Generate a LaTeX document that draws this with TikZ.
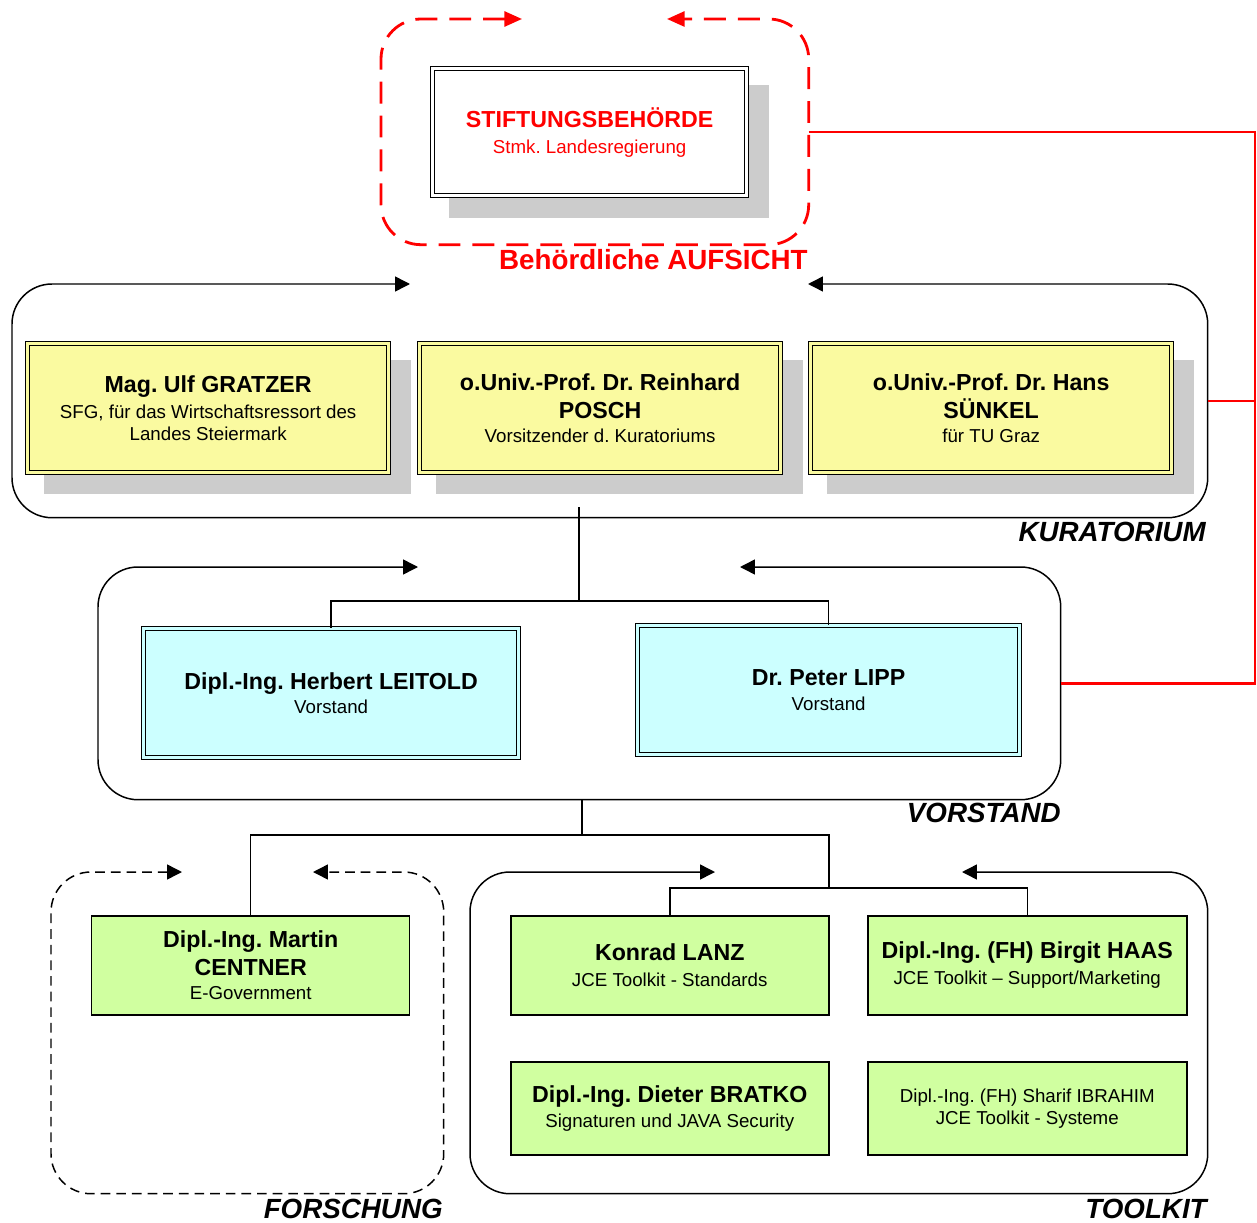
\documentclass[tikz,border=0pt]{standalone}
\usepackage{fontspec}
\setmainfont{Liberation Sans}
\usetikzlibrary{arrows.meta}
\frenchspacing
\definecolor{kyellow}{RGB}{250,250,160}
\definecolor{kcyan}{RGB}{204,255,255}
\definecolor{kgreen}{RGB}{208,255,160}
\definecolor{kshadow}{RGB}{204,204,204}
\definecolor{kred}{RGB}{255,0,0}
\newcommand\nmf{\fontsize{13.2pt}{12.5pt}\selectfont\bfseries}
\newcommand\sbf{\fontsize{10.65pt}{12.5pt}\selectfont\mdseries}
\newcommand\lbf{\fontsize{15.8pt}{18pt}\selectfont\bfseries}
\newcommand\bx[7]{\node[#6, anchor=north west, minimum width={(#4-#2)*0.02cm}, minimum height={(#5-#3)*0.02cm}] (#1) at (#2,#3) {#7};}
\begin{document}
\begin{tikzpicture}[x=0.02cm,y=-0.02cm,
  basebox/.style={inner sep=0pt, align=center, font=\sbf},
  dbox/.style={basebox, draw=black, line width=0.75pt, double distance=1.5pt},
  ybox/.style={dbox, fill=kyellow, double=kyellow},
  cbox/.style={dbox, fill=kcyan, double=kcyan},
  wbox/.style={dbox, fill=white, double=white, text=kred},
  gbox/.style={basebox, draw=black, line width=0.85pt, fill=kgreen},
  frame/.style={inner sep=0pt, anchor=north west},
  blk/.style={draw=black, line width=0.85pt, rounded corners=0.8cm,
     {Triangle[length=8.5pt,width=8.5pt]}-{Triangle[length=8.5pt,width=8.5pt]}},
  blkdash/.style={blk, dash pattern=on 5.5pt off 3.4pt},
  reddash/.style={draw=kred, line width=1.6pt, rounded corners=0.8cm, dash pattern=on 12.5pt off 6.8pt,
     {Triangle[length=10pt,width=8.5pt]}-{Triangle[length=10pt,width=8.5pt]}},
  conn/.style={draw=black, line width=0.85pt},
  redconn/.style={draw=kred, line width=1.3pt},
  grp/.style={font=\lbf\itshape, anchor=base east, inner sep=0pt},
]
\useasboundingbox (0,0) rectangle (1257,1223);

% group frames (invisible nodes giving the outlines)
\bx{sf}{381}{19}{808}{244}{frame}{}
\bx{kf}{12}{284}{1207}{517}{frame}{}
\bx{vf}{98}{567}{1060}{799}{frame}{}
\bx{ff}{51}{872}{443}{1193}{frame}{}
\bx{tf}{470}{872}{1207}{1193}{frame}{}

\draw[reddash] (522,19) -- (sf.north west) -- (sf.south west) -- (sf.south east) -- (sf.north east) -- (667,19);
\draw[blk] (410,284) -- (kf.north west) -- (kf.south west) -- (kf.south east) -- (kf.north east) -- (808,284);
\draw[blk] (418,567) -- (vf.north west) -- (vf.south west) -- (vf.south east) -- (vf.north east) -- (740,567);
\draw[blkdash] (182,872) -- (ff.north west) -- (ff.south west) -- (ff.south east) -- (ff.north east) -- (313,872);
\draw[blk] (715,872) -- (tf.north west) -- (tf.south west) -- (tf.south east) -- (tf.north east) -- (962,872);

% shadows
\fill[kshadow] (449,85) rectangle (769,218);
\fill[kshadow] (44,360) rectangle (411,494);
\fill[kshadow] (436,360) rectangle (803,494);
\fill[kshadow] (827,360) rectangle (1194,494);

% boxes
\bx{stift}{432}{68}{746}{195}{wbox}{{\nmf STIFTUNGSBEHÖRDE}\\[2.2pt]Stmk. Landesregierung}
\bx{k1}{27}{343}{388}{472}{ybox}{{\nmf Mag. Ulf GRATZER}\\[1.8pt]SFG, für das Wirtschaftsressort des\\Landes Steiermark}
\bx{k2}{419}{343}{780}{472}{ybox}{{\nmf o.Univ.-Prof. Dr. Reinhard}\\[3.4pt]{\nmf POSCH}\\[1.4pt]Vorsitzender d. Kuratoriums}
\bx{k3}{810}{343}{1171}{472}{ybox}{{\nmf o.Univ.-Prof. Dr. Hans}\\[3.4pt]{\nmf SÜNKEL}\\[1.4pt]für TU Graz}
\bx{vl}{143}{628}{518}{757}{cbox}{{\nmf Dipl.-Ing. Herbert LEITOLD}\\[1.2pt]Vorstand}
\bx{vr}{637}{625}{1019}{754}{cbox}{{\nmf Dr. Peter LIPP}\\[2.2pt]Vorstand}
\bx{cent}{91}{915}{409}{1014}{gbox}{{\nmf Dipl.-Ing. Martin}\\[3.4pt]{\nmf CENTNER}\\[1.4pt]E-Government}
\bx{lanz}{510}{915}{828}{1014}{gbox}{{\nmf Konrad LANZ}\\[2.2pt]JCE Toolkit - Standards}
\bx{haas}{867}{915}{1186}{1014}{gbox}{{\nmf Dipl.-Ing. (FH) Birgit HAAS}\\[2.2pt]JCE Toolkit – Support/Marketing}
\bx{bratko}{510}{1061}{828}{1154}{gbox}{{\nmf Dipl.-Ing. Dieter BRATKO}\\[1.8pt]Signaturen und JAVA Security}
\bx{ibr}{867}{1061}{1186}{1154}{gbox}{Dipl.-Ing. (FH) Sharif IBRAHIM\\JCE Toolkit - Systeme}

% group labels
\node[grp, text=kred, font=\lbf] (aufs) at (808,269) {Behördliche AUFSICHT};
\node[grp] (kurl) at (1206,541) {KURATORIUM};
\node[grp] (vorl) at (1061,822) {VORSTAND};
\node[grp] (forl) at (443,1218) {FORSCHUNG};
\node[grp] (tooll) at (1207,1218) {TOOLKIT};

% connectors
\coordinate (kb) at (579,507);
\coordinate (vb) at (582,799);
\coordinate (rr) at (1255,0);
\draw[conn] (kb) -- (579,601) -| (vl.north);
\draw[conn] (579,601) -| (vr.north);
\draw[conn] (vb) -- (582,835) -| (cent.north);
\draw[conn] (582,835) -| (829,888) -| (lanz.north);
\draw[conn] (829,888) -| (haas.north);

\draw[redconn] (sf.east) -| (rr |- vf.east) -- (vf.east);
\draw[redconn] (kf.east) -- (rr |- kf.east);
\end{tikzpicture}
\end{document}
